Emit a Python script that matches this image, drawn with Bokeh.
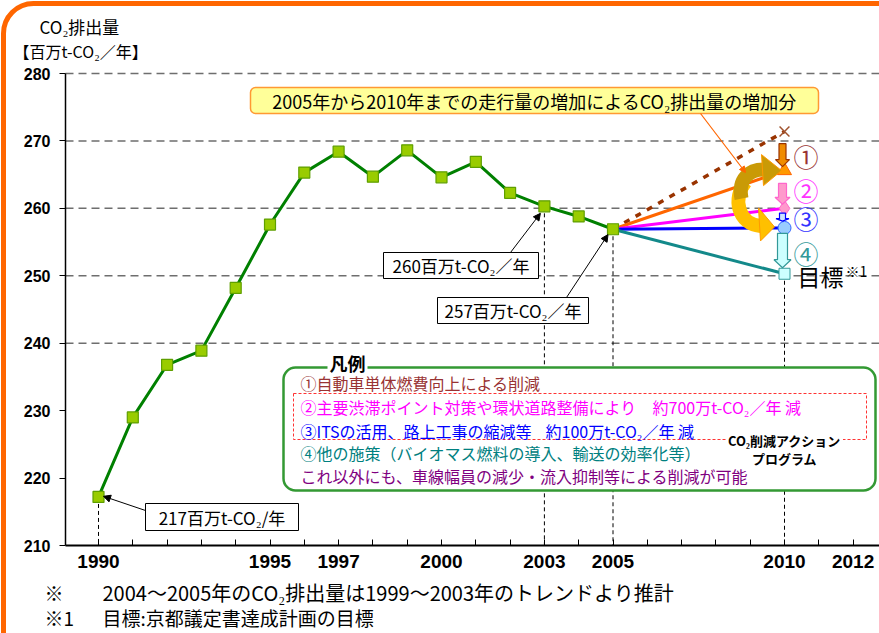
from bokeh.plotting import figure
from bokeh.models import Label, BoxAnnotation, Arrow, NormalHead, FixedTicker, Range1d
from bokeh.embed import file_html
from bokeh.resources import INLINE

# ---------------- data ----------------
years = list(range(1990, 2006))
emissions = [217.2, 229.0, 236.8, 238.9, 248.2, 257.6, 265.3, 268.4,
             264.7, 268.6, 264.6, 266.9, 262.3, 260.3, 258.8, 256.9]

proj_start_year = 2005
proj_end_year = 2010
proj_names = ["trend", "after1", "after2", "after3", "target"]
proj_values_2010 = [271.4, 265.6, 260.0, 257.1, 250.3]

step_labels = ["①", "②", "③", "④"]
step_top = [269.6, 263.7, 259.3, 256.3]
step_bottom = [266.2, 260.6, 258.1, 251.2]

y_ticks = [210, 220, 230, 240, 250, 260, 270, 280]
grid_ticks = [240, 250, 260, 270, 280]
x_minor_years = list(range(1990, 2013))
x_label_years = [1990, 1995, 1997, 2000, 2003, 2005, 2010, 2012]

callout_years = [1990, 2003, 2005]
callout_values = [217, 260, 257]
callout_texts = ["217百万t-CO₂/年", "260百万t-CO₂／年", "257百万t-CO₂／年"]

drop_years = [1990, 2003, 2005, 2010]
drop_values = [217.2, 260.3, 256.9, 250.3]

legend_lines = [
    "①自動車単体燃費向上による削減",
    "②主要渋滞ポイント対策や環状道路整備により",
    "③ITSの活用、路上工事の縮減等",
    "④他の施策（バイオマス燃料の導入、輸送の効率化等）",
    "これ以外にも、車線幅員の減少・流入抑制等による削減が可能",
]
legend_amounts = ["約700万t-CO₂／年 減", "約100万t-CO₂／年 減"]

# ---------------- layout ----------------
W, H = 879, 633
XS = 34.3                      # px per year
YS = 472 / 70                  # px per unit
X_LEFT = 1990 - 98 / XS        # canvas x = 0
X_RIGHT = X_LEFT + W / XS
Y_TOP = 280 + 73 / YS          # canvas y = 0
Y_BOT = Y_TOP - H / YS
AX_X = 1990 - 33 / XS          # y-axis position
Y0, Y1 = 210, 280
JP = "Noto Sans CJK JP"


def DX(px):  # reference pixel -> data x (layout helper for annotations)
    return X_LEFT + px / XS


def DY(py):
    return Y_TOP - py / YS


p = figure(width=W, height=H, x_range=Range1d(X_LEFT, X_RIGHT), y_range=Range1d(Y_BOT, Y_TOP),
           output_backend="svg", toolbar_location=None, min_border=0)
p.outline_line_color = None
p.background_fill_color = "white"
p.border_fill_color = "white"
p.xgrid.visible = False
p.ygrid.visible = False

# axes drawn at fixed data locations
p.yaxis.fixed_location = AX_X
p.yaxis.bounds = (Y0, Y1)
p.yaxis.ticker = FixedTicker(ticks=y_ticks)
p.yaxis.major_tick_in = 0
p.yaxis.major_tick_out = 6
p.yaxis.minor_tick_line_color = None
p.yaxis.axis_line_width = 1.5
p.yaxis.axis_line_color = "black"
p.yaxis.major_tick_line_color = "black"
p.yaxis.major_label_text_font = "Liberation Sans"
p.yaxis.major_label_text_font_style = "bold"
p.yaxis.major_label_text_font_size = "16px"
p.yaxis.major_label_text_color = "black"
p.yaxis.major_label_standoff = 9

p.xaxis.fixed_location = Y0
p.xaxis.bounds = (AX_X, X_RIGHT)
p.xaxis.ticker = FixedTicker(ticks=x_minor_years)
p.xaxis.major_label_overrides = {y: (str(y) if y in x_label_years else "") for y in x_minor_years}
p.xaxis.major_tick_in = 6
p.xaxis.major_tick_out = 0
p.xaxis.minor_tick_line_color = None
p.xaxis.axis_line_width = 2
p.xaxis.axis_line_color = "black"
p.xaxis.major_tick_line_color = "black"
p.xaxis.major_label_text_font = "Liberation Sans"
p.xaxis.major_label_text_font_style = "bold"
p.xaxis.major_label_text_font_size = "19px"
p.xaxis.major_label_text_color = "black"
p.xaxis.major_label_standoff = 9

# horizontal dashed grid lines
p.segment(x0=[AX_X] * len(grid_ticks), y0=grid_ticks, x1=[X_RIGHT] * len(grid_ticks), y1=grid_ticks,
          line_color="#6e6e6e", line_width=1.5, line_dash="8 5")

# vertical dashed drop lines
p.segment(x0=drop_years, y0=drop_values, x1=drop_years, y1=[Y0] * len(drop_years),
          line_color="black", line_width=1, line_dash="4 3")

# projections 2005 -> 2010
v05 = emissions[-1]
proj_colors = ["#993300", "#ff6600", "#ff00ff", "#0000ff", "#13898a"]
for name, v, c in zip(proj_names, proj_values_2010, proj_colors):
    if name == "trend":
        p.line([proj_start_year, proj_end_year], [v05, v], line_color=c, line_width=3.5, line_dash="6 7")
    else:
        p.line([proj_start_year, proj_end_year], [v05, v], line_color=c, line_width=3)

# end markers
p.scatter([proj_end_year], [proj_values_2010[0]], marker="x", size=14, line_color="#a0522d", line_width=1.5)
p.scatter([proj_end_year], [proj_values_2010[1]], marker="triangle", size=14,
          fill_color="#ff9900", line_color="#ff6600")
p.scatter([proj_end_year], [proj_values_2010[2]], marker="diamond", size=16,
          fill_color="#ff99cc", line_color="#ff66cc")
p.scatter([proj_end_year], [proj_values_2010[3]], marker="circle", size=13,
          fill_color="#99ccff", line_color="#3366ff")
p.scatter([proj_end_year], [proj_values_2010[4]], marker="square", size=11,
          fill_color="#ccffff", line_color="#339999")


# block arrows for reductions
def block_arrow(xc, yt, yb, ws, wh, hl):
    ws, wh, hlx = ws / XS, wh / XS, hl / YS
    xs = [xc - ws, xc + ws, xc + ws, xc + wh, xc, xc - wh, xc - ws]
    ys = [yt, yt, yb + hlx, yb + hlx, yb, yb + hlx, yb + hlx]
    return xs, ys


arrow_specs = [(3.5, 7, 7), (4, 7.5, 7), (3, 6.5, 2.5), (5, 8.5, 8)]
arrow_fill = ["#f08c00", "#ff99cc", "#cce5ff", "#ccffff"]
arrow_line = ["#993300", "#ff66cc", "#0000ff", "#339999"]
axs, ays = [], []
for t, b, (ws, wh, hl) in zip(step_top, step_bottom, arrow_specs):
    xs, ys = block_arrow(proj_end_year - 2 / XS, t, b, ws, wh, hl)
    axs.append(xs)
    ays.append(ys)
p.patches(axs, ays, fill_color=arrow_fill, line_color=arrow_line, line_width=1.2)


# curved golden arrows (increase from traffic growth)
def off(x, y, dxp, dyp):
    return x + dxp / XS, y - dyp / YS


ax, ay = proj_end_year, proj_values_2010[1]
bx, by = proj_end_year, proj_values_2010[3]
# bottom (yellow)
b_pts = [off(bx, by, *d) for d in [(-39, -46), (-52, -30), (-47, -4), (-24, -2)]]
p.bezier(x0=[b_pts[0][0]], y0=[b_pts[0][1]], cx0=[b_pts[1][0]], cy0=[b_pts[1][1]],
         cx1=[b_pts[2][0]], cy1=[b_pts[2][1]], x1=[b_pts[3][0]], y1=[b_pts[3][1]],
         line_color="#ffc000", line_width=14)
bh = [off(bx, by, *d) for d in [(-26, -20), (-10, -1), (-24, 13)]]
p.patch([q[0] for q in bh], [q[1] for q in bh], fill_color="#ffc000", line_color="#ff9900", line_width=1)
# top (dark gold)
t_pts = [off(ax, ay, *d) for d in [(-43, 28), (-47, 8), (-35, -1), (-21, -1)]]
p.bezier(x0=[t_pts[0][0]], y0=[t_pts[0][1]], cx0=[t_pts[1][0]], cy0=[t_pts[1][1]],
         cx1=[t_pts[2][0]], cy1=[t_pts[2][1]], x1=[t_pts[3][0]], y1=[t_pts[3][1]],
         line_color="#c99a06", line_width=14)
th = [off(ax, ay, *d) for d in [(-23, -16), (-3, 0), (-21, 15)]]
p.patch([q[0] for q in th], [q[1] for q in th], fill_color="#c99a06", line_color="#ff9900", line_width=1)

# main series
p.line(years, emissions, line_color="#008000", line_width=3)
p.scatter(years, emissions, marker="square", size=11, fill_color="#99cc00", line_color="#5f9f00", line_width=1.2)


# ---------------- annotations ----------------
def lab(x, y, text, size, color="black", bold=False, align="left", font=JP, bg=None):
    kw = {}
    if bg:
        kw = dict(background_fill_color=bg, padding=2)
    p.add_layout(Label(x=x, y=y, text=text, text_font=font, text_font_size=f"{size}px",
                       text_color=color, text_font_style="bold" if bold else "normal",
                       text_align=align, text_baseline="middle", **kw))


def box(l, r, t, b, fill=None, line="black", lw=1.0, dash="solid", radius=0):
    p.add_layout(BoxAnnotation(left=DX(l), right=DX(r), top=DY(t), bottom=DY(b),
                               fill_color=fill if fill else "white", fill_alpha=1.0 if fill else 0.0,
                               line_color=line, line_alpha=1.0, line_width=lw, line_dash=dash,
                               border_radius=radius, level="annotation"))


# outer orange frame
box(3, 1400, 3, 1400, fill=None, line="#ff6600", lw=5, radius=30)

# titles
lab(DX(39), DY(26), "CO₂排出量", 17)
lab(DX(13), DY(50), "【百万t-CO₂／年】", 16)

# top callout box
box(250, 818, 87, 113, fill="#ffff99", line="#ff9933", lw=1.5, radius=5)
lab(DX(534), DY(100), "2005年から2010年までの走行量の増加によるCO₂排出量の増加分", 18, align="center")
p.add_layout(Arrow(end=NormalHead(size=6, fill_color="#ff6600", line_color="#ff6600"),
                   x_start=DX(700), y_start=DY(113), x_end=DX(745), y_end=DY(172),
                   line_color="#ff6600", line_width=1.2))

# value callouts
cbox = [(145, 298, 503, 530), (383, 538, 252, 278), (437, 588, 297, 323)]
cstart = [(145, 510), (510, 252), (566, 297)]
cend_off = [(5, -2), (-4, 5), (-5, 6)]
for (l, r, t, b), txt, (sx, sy), yr, v, (ex, ey) in zip(cbox, callout_texts, cstart,
                                                         callout_years, callout_values, cend_off):
    box(l, r, t, b, fill="white", line="black", lw=1)
    lab(DX((l + r) / 2), DY((t + b) / 2), txt, 17, align="center")
    p.add_layout(Arrow(end=NormalHead(size=7, fill_color="black", line_color="black"),
                       x_start=DX(sx), y_start=DY(sy), x_end=yr + ex / XS, y_end=v - ey / YS,
                       line_color="black", line_width=1))

# step labels next to arrows
step_colors = ["#993333", "#ff33ff", "#3333ff", "#339999"]
step_y = [155, 189, 217, 252]
for s, c, yy in zip(step_labels, step_colors, step_y):
    lab(DX(793), DY(yy), s, 25, color=c)
lab(DX(797), DY(275), "目標", 23)
lab(DX(845), DY(270), "※1", 14)

# legend box
box(283, 875, 367, 490, fill="white", line="#339933", lw=2.5, radius=12)
box(293, 866, 393, 439, fill=None, line="#ff3333", lw=1, dash="3 2")
lab(DX(347), DY(362), "凡例", 18, bold=True, align="center", bg="white")
legend_colors = ["#993333", "#ff00ff", "#0000ff", "#008080", "#800080"]
legend_y = [382, 406, 430, 452, 475]
for t, c, yy in zip(legend_lines, legend_colors, legend_y):
    lab(DX(300), DY(yy), t, 16, color=c)
lab(DX(652), DY(406), legend_amounts[0], 16, color=legend_colors[1])
lab(DX(545), DY(430), legend_amounts[1], 16, color=legend_colors[2])
lab(DX(784), DY(440), "CO₂削減アクション", 13, bold=True, align="center", bg="white")
lab(DX(784), DY(458), "プログラム", 13, bold=True, align="center")

# footnotes
lab(DX(44), DY(592), "※", 19)
lab(DX(102), DY(592), "2004～2005年のCO₂排出量は1999～2003年のトレンドより推計", 20)
lab(DX(44), DY(617), "※1", 19)
lab(DX(102), DY(617), "目標:京都議定書達成計画の目標", 19)

open("out.html", "w").write(file_html(p, INLINE))
